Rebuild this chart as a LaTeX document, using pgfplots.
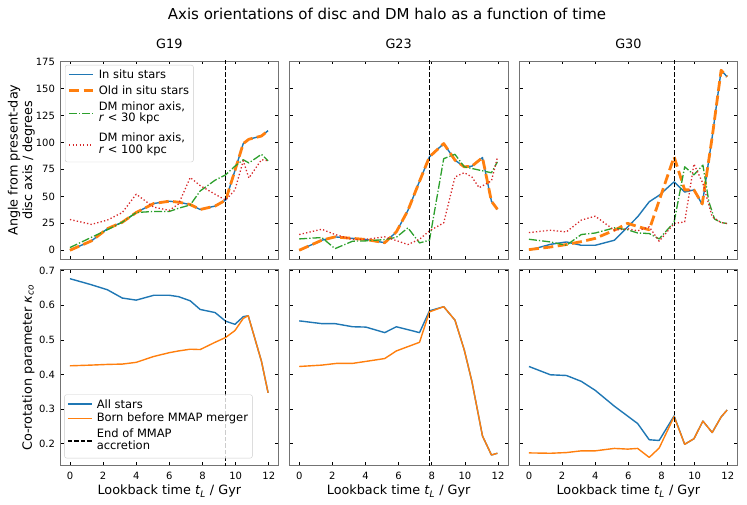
\documentclass[border=0pt]{standalone}
\usepackage{fontspec}
\setmainfont{DejaVu Sans}
\usepackage{pgfplots}
\pgfplotsset{compat=1.18}
\definecolor{mblue}{HTML}{1F77B4}
\definecolor{morange}{HTML}{FF7F0E}
\definecolor{mgreen}{HTML}{2CA02C}
\definecolor{mred}{HTML}{D62728}
\newcommand{\tickfont}{\fontsize{10}{11}\selectfont}
\newcommand{\legfont}{\fontsize{11.5}{13}\selectfont}
\newcommand{\labfont}{\fontsize{12.8}{14.5}\selectfont}
\newcommand{\twoline}[2]{\begin{tabular}{@{}l@{}}#1\\[-1.5pt]#2\end{tabular}}
\pgfplotsset{
  panel/.style={
    scale only axis, anchor=south west, width=218.7pt,
    xmin=-0.6, xmax=12.6, xtick={0,2,4,6,8,10,12},
    tick align=inside, major tick length=3.5pt,
    axis line style={black!55, line width=0.9pt},
    tick style={black, line width=0.7pt},
    ticklabel style={font=\tickfont},
    yticklabel style={xshift=-1.5pt},
    xticklabel style={anchor=base, yshift=-14pt},
    /pgf/number format/assume math mode=true,
    title style={font=\labfont, at={(0.5,1)}, anchor=base, yshift=6pt},
    xlabel style={font=\labfont, at={(axis description cs:0.5,0)}, anchor=base, yshift=-28.9pt},
    ylabel style={font=\labfont, anchor=center, align=center},
    legend cell align=left,
    legend style={draw=black!20, rounded corners=2pt, fill=white, fill opacity=0.8, text opacity=1, font=\legfont,
      inner xsep=2.5pt, inner ysep=3pt, row sep=3.2pt,
      nodes={font=\legfont, inner sep=1.8pt, text depth=},
      legend image code/.code={\draw[##1, line cap=butt] (0pt,0pt) -- (24pt,0pt); \path (26.5pt,0pt);}},
  },
  top/.style={panel, height=198.3pt, ymin=-8.4, ymax=175.6, ytick={0,25,50,75,100,125,150,175}, xticklabels={}},
  bot/.style={panel, height=196pt, ymin=0.136, ymax=0.703, ytick={0.2,0.3,0.4,0.5,0.6,0.7},
    yticklabel style={/pgf/number format/.cd, fixed, fixed zerofill, precision=1},
    xlabel={Lookback time \textit{t}\textsubscript{\textit{L}} / Gyr}},
  sblue/.style={draw=mblue, line width=1.4pt, line join=round},
  sorange/.style={draw=morange, line width=2.8pt, dash pattern=on 10pt off 4.5pt, line join=round},
  sorangeb/.style={draw=morange, line width=1.4pt, line join=round},
  sgreen/.style={draw=mgreen, line width=1.3pt, dash pattern=on 8pt off 2pt on 1.3pt off 2pt, line join=round},
  sred/.style={draw=mred, line width=1.3pt, dash pattern=on 1.3pt off 2.2pt, line join=round},
  svline/.style={draw=black, line width=1.1pt, dash pattern=on 4.5pt off 2pt},
}
\begin{document}
\begin{tikzpicture}
\path[use as bounding box] (0pt,0pt) rectangle (747pt,504pt);
\node[font=\fontsize{15}{18}\selectfont] at (387pt,490pt) {Axis orientations of disc and DM halo as a function of time};

% ---------------- G19 top
\begin{axis}[top, at={(60pt,244.7pt)}, title={G19},
  ylabel={Angle from present-day\\disc axis / degrees},
  ylabel style={at={(axis description cs:-0.177,0.5)}},
  legend style={at={(0.023,0.98)}, anchor=north west}]
\addplot[sblue] coordinates {(0,0) (1.3,8.7) (2.26,20) (3.16,26) (4,35) (5.06,43.4) (6,45.5) (6.56,44.6) (7.26,42.4) (7.86,37.8) (8.76,41) (9.4,46.5) (9.96,74) (10.46,99) (10.8,103) (11.56,106) (11.96,111)};
\addlegendentry{\legfont In situ stars}
\addplot[sorange] coordinates {(0,0) (1.3,8.7) (2.26,20) (3.16,26) (4,35) (5.06,43.4) (6,45.5) (6.56,44.6) (7.26,42.4) (7.86,37.8) (8.76,41) (9.4,46.5) (9.96,74) (10.46,99) (10.8,103) (11.56,106) (11.96,111)};
\addlegendentry{\legfont Old in situ stars}
\addplot[sgreen] coordinates {(0,2.5) (1.3,12) (2.26,19) (3.16,26) (4,35) (5.06,36) (6,36) (6.56,39) (7.26,42) (7.86,55) (8.76,65) (9.4,70) (9.96,78) (10.46,84) (10.8,81) (11.56,89) (11.96,83)};
\addlegendentry{\legfont\twoline{DM minor axis,}{\textit{r} < 30 kpc}}
\addplot[sred] coordinates {(0,28.5) (1.3,24) (2.26,28) (3.16,35) (4,52) (5.06,40) (6,37) (6.56,43) (7.26,67.5) (7.86,60) (8.76,52) (9.4,46.5) (9.96,56) (10.46,83) (10.8,67) (11.56,84) (11.96,83)};
\addlegendentry{\legfont\twoline{DM minor axis,}{\textit{r} < 100 kpc}}
\addplot[svline, forget plot] coordinates {(9.4,-20) (9.4,200)};
\end{axis}

% ---------------- G23 top
\begin{axis}[top, at={(289.3pt,244.7pt)}, title={G23}, yticklabels={}]
\addplot[sblue] coordinates {(0,0) (1.36,9.3) (2.16,12.4) (3.22,11) (4.02,10) (5.16,7) (5.86,17) (6.56,37) (7.26,64) (7.86,86.7) (8.72,99) (9.4,83.6) (9.96,77.4) (10.42,78) (11.06,86) (11.6,45.5) (11.96,38)};
\addplot[sorange] coordinates {(0,0) (1.36,9.3) (2.16,12.4) (3.22,11) (4.02,10) (5.16,7) (5.86,17) (6.56,37) (7.26,64) (7.86,86.7) (8.72,99) (9.4,83.6) (9.96,77.4) (10.42,78) (11.06,86) (11.6,45.5) (11.96,38)};
\addplot[sgreen] coordinates {(0,10.5) (1.36,11.8) (2.16,1.5) (3.22,8.4) (4.02,8.7) (5.16,9.9) (5.86,12) (6.56,20.8) (7.26,6.8) (7.86,9.3) (8.72,85) (9.4,89) (9.96,77.4) (10.42,75.9) (11.06,73.7) (11.6,71.9) (11.96,82)};
\addplot[sred] coordinates {(0,14.6) (1.36,19.5) (2.16,14.6) (3.22,9.9) (4.02,10.2) (5.16,12.4) (5.86,9) (6.56,5.3) (7.26,10.2) (7.86,18) (8.72,25.4) (9.4,68) (9.96,72) (10.42,68) (10.86,58) (11.6,64.4) (11.96,86)};
\addplot[svline] coordinates {(7.86,-20) (7.86,200)};
\end{axis}

% ---------------- G30 top
\begin{axis}[top, at={(519pt,244.7pt)}, title={G30}, yticklabels={}]
\addplot[sblue] coordinates {(0,0) (1.3,5.5) (2.26,7.7) (3.16,4.6) (4,4.6) (5.16,9.3) (6.56,31) (7.26,45) (7.86,51) (8.76,63.5) (9.4,54) (9.96,56) (10.46,42.5) (11.06,105) (11.6,167) (11.96,161)};
\addplot[sorange] coordinates {(0,0.6) (1.3,3) (2.26,5.3) (3.16,8) (4,11) (5.16,18.6) (5.96,25) (6.56,22) (7.26,19) (8.76,86.7) (9.4,56) (9.96,56) (10.46,43) (11.06,105) (11.6,167) (11.96,161)};
\addplot[sgreen] coordinates {(0,10.2) (1.3,7.7) (2.26,4.6) (3.16,14.6) (4,16) (5.16,20.8) (5.96,19) (6.56,16) (7.26,15.5) (7.86,10.5) (8.76,26) (9.4,77.4) (9.96,70) (10.5,79) (10.86,45) (11.2,29) (11.6,25.7) (11.96,24.8)};
\addplot[sred] coordinates {(0,16.4) (1.3,18.6) (2.26,17) (3.16,28) (4,31.6) (5.16,18.6) (5.96,20) (6.56,18) (7.26,21.7) (7.86,8.4) (8.76,24.8) (9.4,26.3) (9.96,80) (10.5,62) (11.06,31) (11.6,25.7) (11.96,24.8)};
\addplot[svline] coordinates {(8.76,-20) (8.76,200)};
\end{axis}

% ---------------- G19 bottom
\begin{axis}[bot, at={(60pt,38.3pt)},
  ylabel={Co-rotation parameter \textit{κ}\textsubscript{\textit{co}}},
  ylabel style={at={(axis description cs:-0.145,0.5)}},
  legend style={at={(0.02,0.038)}, anchor=south west, row sep=1pt}]
\addplot[sblue] coordinates {(0,0.677) (1.26,0.660) (2.26,0.645) (3.16,0.621) (4,0.615) (5.06,0.629) (6,0.629) (6.56,0.625) (7.26,0.613) (7.86,0.588) (8.76,0.579) (9.4,0.554) (9.96,0.545) (10.46,0.567) (10.76,0.570) (11.56,0.438) (11.96,0.347)};
\addlegendentry{\legfont All stars}
\addplot[sorangeb] coordinates {(0,0.425) (1.26,0.427) (2.26,0.429) (3.16,0.430) (4,0.435) (5.06,0.452) (6,0.463) (6.56,0.468) (7.26,0.473) (7.86,0.472) (8.76,0.493) (9.4,0.507) (9.96,0.527) (10.46,0.562) (10.76,0.570) (11.56,0.438) (11.96,0.347)};
\addlegendentry{\legfont Born before MMAP merger\hspace{9pt}}
\addplot[svline] coordinates {(9.4,0) (9.4,1)};
\addlegendentry{\legfont\twoline{End of MMAP}{accretion}}
\end{axis}

% ---------------- G23 bottom
\begin{axis}[bot, at={(289.3pt,38.3pt)}, yticklabels={}]
\addplot[sblue] coordinates {(0,0.555) (1.36,0.547) (2.16,0.547) (3.22,0.538) (4.02,0.537) (5.16,0.521) (5.86,0.538) (7.26,0.521) (7.86,0.584) (8.72,0.596) (9.4,0.557) (9.96,0.471) (10.42,0.38) (11.06,0.222) (11.6,0.167) (11.96,0.172)};
\addplot[sorangeb] coordinates {(0,0.423) (1.36,0.427) (2.26,0.432) (3.22,0.432) (4.06,0.438) (5.16,0.446) (5.86,0.468) (7.26,0.493) (7.86,0.581) (8.72,0.596) (9.4,0.557) (9.96,0.471) (10.42,0.38) (11.06,0.222) (11.6,0.167) (11.96,0.172)};
\addplot[svline] coordinates {(7.86,0) (7.86,1)};
\end{axis}

% ---------------- G30 bottom
\begin{axis}[bot, at={(519pt,38.3pt)}, yticklabels={}]
\addplot[sblue] coordinates {(0,0.423) (1.3,0.399) (2.26,0.397) (3.16,0.38) (4,0.354) (5.16,0.308) (6.56,0.258) (7.26,0.211) (7.86,0.209) (8.76,0.28) (9.4,0.198) (9.96,0.214) (10.5,0.265) (11.06,0.232) (11.6,0.277) (11.96,0.297)};
\addplot[sorangeb] coordinates {(0,0.173) (1.3,0.172) (2.26,0.174) (3.16,0.179) (4,0.179) (5.16,0.186) (5.96,0.184) (6.56,0.186) (7.26,0.16) (7.86,0.187) (8.76,0.278) (9.4,0.198) (9.96,0.214) (10.5,0.265) (11.06,0.232) (11.6,0.277) (11.96,0.297)};
\addplot[svline] coordinates {(8.76,0) (8.76,1)};
\end{axis}
\end{tikzpicture}
\end{document}
